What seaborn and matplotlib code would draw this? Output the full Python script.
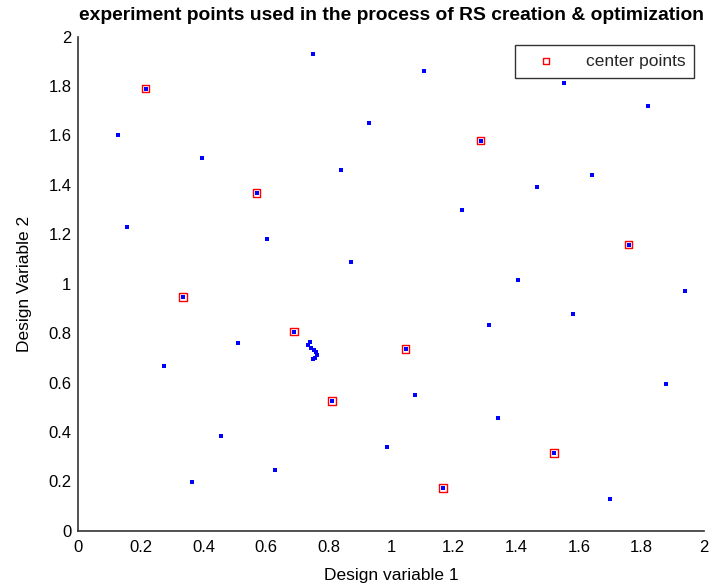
import matplotlib
matplotlib.use("Agg")
import matplotlib.pyplot as plt
import seaborn as sns
import pandas as pd

# ---- data ----
title = "experiment points used in the process of RS creation & optimization"
xlabel = "Design variable 1"
ylabel = "Design Variable 2"
legend_label = "center points"

tick_values = [0, 0.2, 0.4, 0.6, 0.8, 1.0, 1.2, 1.4, 1.6, 1.8, 2.0]
tick_labels = ["0", "0.2", "0.4", "0.6", "0.8", "1", "1.2", "1.4", "1.6", "1.8", "2"]

center_x = [0.215, 0.570, 1.286, 1.759, 0.335, 0.690, 1.046, 0.811, 1.166, 1.520]
center_y = [1.790, 1.368, 1.579, 1.158, 0.947, 0.806, 0.736, 0.526, 0.174, 0.315]

other_x = [0.128, 0.395, 0.156, 0.603, 0.751, 1.106, 0.930, 0.839, 1.225, 0.871,
           1.553, 1.820, 1.641, 1.465, 1.405, 0.510, 0.275, 0.455, 0.630, 0.362,
           1.313, 1.077, 1.342, 0.986, 1.940, 1.580, 1.879, 1.700,
           0.740, 0.735, 0.745, 0.752, 0.760, 0.762, 0.757, 0.750]
other_y = [1.602, 1.509, 1.228, 1.181, 1.930, 1.860, 1.649, 1.462, 1.298, 1.088,
           1.813, 1.720, 1.439, 1.391, 1.017, 0.759, 0.666, 0.385, 0.245, 0.197,
           0.831, 0.549, 0.455, 0.338, 0.970, 0.877, 0.596, 0.127,
           0.765, 0.750, 0.738, 0.730, 0.725, 0.712, 0.700, 0.697]

# ---- build tables ----
centers = pd.DataFrame({"x": center_x, "y": center_y})
all_pts = pd.DataFrame({"x": other_x + center_x, "y": other_y + center_y})

sns.set_style("white")
plt.rcParams["font.family"] = ["Liberation Sans", "DejaVu Sans"]

fig = plt.figure(figsize=(7.14, 5.88), dpi=100)
ax = fig.add_axes([0.1097, 0.0974, 0.8763, 0.8402])

sns.scatterplot(data=centers, x="x", y="y", ax=ax, marker="s", s=30,
                facecolor="none", edgecolor="#ff0000", linewidth=1.0,
                label=legend_label, zorder=2)
sns.scatterplot(data=all_pts, x="x", y="y", ax=ax, marker="s", s=9,
                color="#0000ff", linewidth=0, legend=False, zorder=3)

ax.set_xlim(0, 2)
ax.set_ylim(0, 2)
ax.set_xticks(tick_values)
ax.set_xticklabels(tick_labels)
ax.set_yticks(tick_values)
ax.set_yticklabels(tick_labels)
ax.tick_params(direction="in", length=5, width=1, colors="#222222",
               labelsize=12, labelcolor="black")
ax.tick_params(axis="x", pad=7)
ax.tick_params(axis="y", pad=5)

for side in ["top", "right"]:
    ax.spines[side].set_visible(False)
for side in ["left", "bottom"]:
    ax.spines[side].set_color("#333333")
    ax.spines[side].set_linewidth(1.2)

ax.set_xlabel(xlabel, fontsize=12.5, labelpad=9, color="black")
ax.set_ylabel(ylabel, fontsize=12.5, labelpad=12, color="black")
ax.set_title(title, fontsize=13.9, fontweight="bold", pad=12, color="black")

leg = ax.legend(loc="upper right", bbox_to_anchor=(0.9845, 0.983),
                borderaxespad=0, fancybox=False, frameon=True, fontsize=12.5,
                handletextpad=1.0, borderpad=0.5, handlelength=2.6,
                markerscale=0.8)
leg.get_frame().set_edgecolor("black")
leg.get_frame().set_linewidth(1.0)

fig.savefig("out.png", dpi=100, facecolor="white")
